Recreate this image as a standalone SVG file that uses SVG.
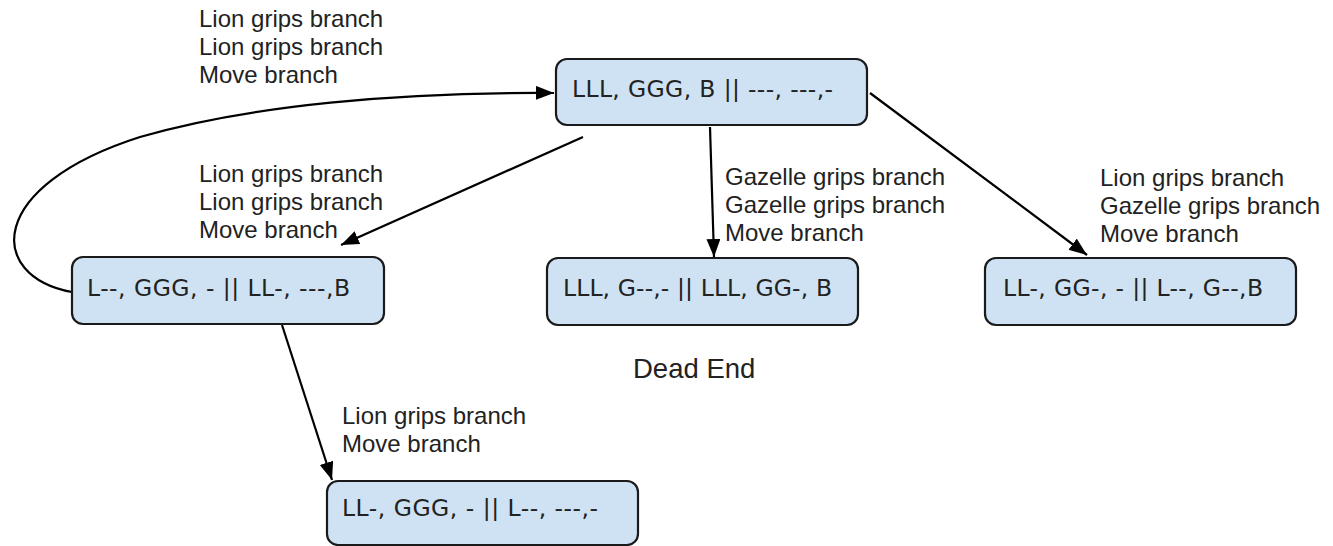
<svg xmlns="http://www.w3.org/2000/svg" width="1333" height="546" viewBox="0 0 1333 546">
  <style>
    .box { fill: #cfe2f3; stroke: #1a1a1a; stroke-width: 2.2; }
    .state { font-family: "DejaVu Sans", Verdana, sans-serif; font-size: 23.5px; fill: #222; }
    .lbl { font-family: "Liberation Sans", Arial, sans-serif; font-size: 24px; fill: #222; }
    .big { font-family: "Liberation Sans", Arial, sans-serif; font-size: 27.5px; fill: #222; }
    .edge { fill: none; stroke: #000; stroke-width: 2.2; }
  </style>
  <defs>
    <marker id="arrow" markerUnits="userSpaceOnUse" markerWidth="20" markerHeight="16" refX="18" refY="7" orient="auto">
      <path d="M0,0 L18,7 L0,14 Z" fill="#000"/>
    </marker>
  </defs>
  <rect width="1333" height="546" fill="#fff"/>

  <!-- connectors -->
  <g id="connectors">
    <path class="edge" d="M72,292 C-14,276 -14,186 140,137 C250,105 400,92 554,93" marker-end="url(#arrow)"/>
    <line class="edge" x1="583" y1="137" x2="341" y2="245" marker-end="url(#arrow)"/>
    <line class="edge" x1="710" y1="127" x2="714" y2="257" marker-end="url(#arrow)"/>
    <line class="edge" x1="870" y1="93" x2="1087" y2="255" marker-end="url(#arrow)"/>
    <line class="edge" x1="282" y1="325" x2="332" y2="480" marker-end="url(#arrow)"/>
  </g>

  <!-- edge labels -->
  <g id="labels">
    <text class="lbl" x="199" y="27">Lion grips branch</text>
    <text class="lbl" x="199" y="55">Lion grips branch</text>
    <text class="lbl" x="199" y="83">Move branch</text>

    <text class="lbl" x="199" y="182">Lion grips branch</text>
    <text class="lbl" x="199" y="210">Lion grips branch</text>
    <text class="lbl" x="199" y="238">Move branch</text>

    <text class="lbl" x="725" y="185">Gazelle grips branch</text>
    <text class="lbl" x="725" y="213">Gazelle grips branch</text>
    <text class="lbl" x="725" y="241">Move branch</text>

    <text class="lbl" x="1100" y="186">Lion grips branch</text>
    <text class="lbl" x="1100" y="214">Gazelle grips branch</text>
    <text class="lbl" x="1100" y="242">Move branch</text>

    <text class="lbl" x="342" y="424">Lion grips branch</text>
    <text class="lbl" x="342" y="452">Move branch</text>

    <text class="big" x="633" y="378">Dead End</text>
  </g>

  <!-- state nodes -->
  <g id="node-start">
    <rect class="box" x="556" y="59" width="311" height="66" rx="11"/>
    <text class="state" x="572" y="97" textLength="261" lengthAdjust="spacing">LLL, GGG, B || ---, ---,-</text>
  </g>
  <g id="node-left">
    <rect class="box" x="72" y="257" width="312" height="67" rx="11"/>
    <text class="state" x="87" y="296" textLength="263" lengthAdjust="spacing">L--, GGG, - || LL-, ---,B</text>
  </g>
  <g id="node-middle">
    <rect class="box" x="547" y="258" width="311" height="67" rx="11"/>
    <text class="state" x="563" y="296" textLength="269" lengthAdjust="spacing">LLL, G--,- || LLL, GG-, B</text>
  </g>
  <g id="node-right">
    <rect class="box" x="985" y="258" width="311" height="67" rx="11"/>
    <text class="state" x="1003" y="296" textLength="260" lengthAdjust="spacing">LL-, GG-, - || L--, G--,B</text>
  </g>
  <g id="node-bottom">
    <rect class="box" x="327" y="481" width="311" height="64" rx="11"/>
    <text class="state" x="342" y="516" textLength="256" lengthAdjust="spacing">LL-, GGG, - || L--, ---,-</text>
  </g>
</svg>
